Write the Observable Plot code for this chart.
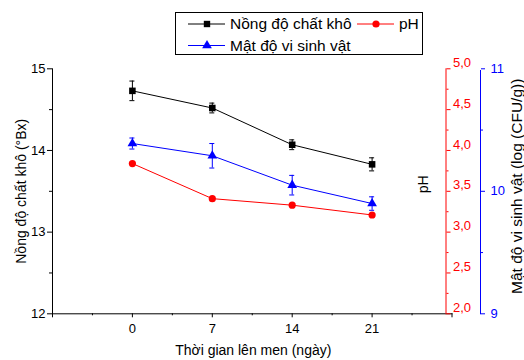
<!DOCTYPE html>
<html>
<head>
<meta charset="utf-8">
<script src="https://cdn.jsdelivr.net/npm/d3@7"></script>
<script src="https://cdn.jsdelivr.net/npm/@observablehq/plot@0.6"></script>
<style>
  html, body { margin: 0; padding: 0; background: #fff; }
  #wrap { position: relative; width: 524px; height: 360px; font-family: "Liberation Sans", Arial, sans-serif; }
  #wrap svg { display: block; }
  #legend { position: absolute; left: 0; top: 0; }
</style>
</head>
<body>
<div id="wrap"></div>
<script>
// ---- data ----
const days = [0, 7, 14, 21];
const solids = [14.73, 14.52, 14.07, 13.83];        // °Bx
const solidsErr = [0.12, 0.06, 0.06, 0.08];
const pH = [3.84, 3.41, 3.33, 3.21];
const microbes = [10.39, 10.29, 10.05, 9.90];      // log CFU/g
const microbesErr = [0.045, 0.10, 0.08, 0.055];

// ---- ticks / labels ----
const xTicks = [0, 7, 14, 21];
const xEndTicks = [-7, 28];
const xMinorTicks = [-3.5, 3.5, 10.5, 17.5, 24.5];
const leftTicks = [12, 13, 14, 15];
const leftMinor = [12.5, 13.5, 14.5];
const pHTicks = [2, 2.5, 3, 3.5, 4, 4.5, 5];
const pHMinor = [2.25, 2.75, 3.25, 3.75, 4.25, 4.75];
const logTicks = [9, 10, 11];
const logMinor = [9.5, 10.5];

const xTitle = "Thời gian lên men (ngày)";
const leftTitle = "Nồng độ chất khô (°Bx)";
const pHTitle = "pH";
const logTitle = "Mật độ vi sinh vật (log (CFU/g))";
const seriesNames = ["Nồng độ chất khô", "pH", "Mật độ vi sinh vật"];
const seriesColors = ["#000000", "#ff0000", "#0000ff"];

// map secondary axes onto the primary (12–15) scale
const fromPH = v => v + 10;                 // 2–5  -> 12–15
const fromLog = v => 12 + (v - 9) * 1.5;    // 9–11 -> 12–15

const rows = days.map((d, i) => ({
  day: d,
  solids: solids[i], solidsErr: solidsErr[i],
  ph: fromPH(pH[i]),
  mic: fromLog(microbes[i]), micLo: fromLog(microbes[i] - microbesErr[i]), micHi: fromLog(microbes[i] + microbesErr[i])
}));

const font = '"Liberation Sans", Arial, sans-serif';
const capW = 0.22;

const plot = Plot.plot({
  width: 524, height: 360,
  marginLeft: 52, marginRight: 72.5, marginTop: 68.3, marginBottom: 46.7,
  style: { fontFamily: font, fontSize: "13px", background: "white", color: "black", overflow: "visible" },
  x: { domain: [-7, 28] },
  y: { domain: [12, 15] },
  marks: [
    // axis lines
    Plot.frame({ anchor: "left", stroke: "#000" }),
    Plot.frame({ anchor: "bottom", stroke: "#000" }),
    Plot.frame({ anchor: "right", stroke: "#ff0000", insetRight: 6 }),
    Plot.frame({ anchor: "right", stroke: "#0000ff", insetRight: -28.5, insetTop: 1.7 }),

    // x axis
    Plot.axisX(xTicks, { anchor: "bottom", tickSize: 4, tickPadding: 6, label: null, fontSize: 13, tickFormat: d => String(d) }),
    Plot.axisX(xEndTicks, { anchor: "bottom", tickSize: 4, fill: "none", label: null }),
    Plot.axisX(xMinorTicks, { anchor: "bottom", tickSize: 2, fill: "none", label: null }),

    // left axis
    Plot.axisY(leftTicks, { anchor: "left", tickSize: 5, tickPadding: 2, label: null, fontSize: 13, tickFormat: d => String(d) }),
    Plot.axisY(leftMinor, { anchor: "left", tickSize: 3, fill: "none", label: null }),

    // pH axis (red)
    Plot.axisY(pHTicks.map(fromPH), { anchor: "right", dx: -6, tickSize: 4, stroke: "#ff0000", fill: "none", label: null }),
    Plot.axisY(pHMinor.map(fromPH), { anchor: "right", dx: -6, tickSize: 2, stroke: "#ff0000", fill: "none", label: null }),
    Plot.axisY(pHTicks.map(fromPH), { anchor: "right", dx: -6, dy: -6, tickSize: 0, tickPadding: 7, fill: "#ff0000",
      tickFormat: d => (d - 10).toFixed(1).replace(".", ","), label: null, fontSize: 13 }),

    // log axis (blue)
    Plot.axisY(logTicks.map(fromLog), { anchor: "right", dx: 28.5, tickSize: 4, tickPadding: 6, stroke: "#0000ff", fill: "#0000ff",
      tickFormat: d => String(Math.round(9 + (d - 12) / 1.5)), label: null, fontSize: 13 }),
    Plot.axisY(logMinor.map(fromLog), { anchor: "right", dx: 28.5, tickSize: 2, stroke: "#0000ff", fill: "none", label: null }),

    // axis titles
    Plot.text([leftTitle], { frameAnchor: "left", dx: -31, dy: 0, rotate: -90, textAnchor: "middle", lineAnchor: "middle", fontSize: 14 }),
    Plot.text([xTitle], { frameAnchor: "bottom", dx: 1, dy: 36.5, textAnchor: "middle", lineAnchor: "middle", fontSize: 14 }),
    Plot.text([pHTitle], { frameAnchor: "right", dx: -28.5, dy: -7, rotate: -90, textAnchor: "middle", lineAnchor: "middle", fontSize: 14 }),
    Plot.text([logTitle], { frameAnchor: "right", dx: 65.5, dy: -5, rotate: -90, textAnchor: "middle", lineAnchor: "middle", fontSize: 15.5 }),

    // series: solids (black)
    Plot.ruleX(rows, { x: "day", y1: d => d.solids - d.solidsErr, y2: d => d.solids + d.solidsErr, stroke: "#000" }),
    Plot.ruleY(rows, { y: d => d.solids - d.solidsErr, x1: d => d.day - capW, x2: d => d.day + capW, stroke: "#000" }),
    Plot.ruleY(rows, { y: d => d.solids + d.solidsErr, x1: d => d.day - capW, x2: d => d.day + capW, stroke: "#000" }),
    Plot.line(rows, { x: "day", y: "solids", stroke: "#000", strokeWidth: 1 }),
    Plot.dot(rows, { x: "day", y: "solids", symbol: "square", r: 3.7, fill: "#000", stroke: "none" }),

    // series: microbes (blue)
    Plot.ruleX(rows, { x: "day", y1: "micLo", y2: "micHi", stroke: "#0000ff" }),
    Plot.ruleY(rows, { y: "micLo", x1: d => d.day - capW, x2: d => d.day + capW, stroke: "#0000ff" }),
    Plot.ruleY(rows, { y: "micHi", x1: d => d.day - capW, x2: d => d.day + capW, stroke: "#0000ff" }),
    Plot.line(rows, { x: "day", y: "mic", stroke: "#0000ff", strokeWidth: 1 }),
    Plot.dot(rows, { x: "day", y: "mic", symbol: "triangle", r: 3.6, fill: "#0000ff", stroke: "none" }),

    // series: pH (red)
    Plot.line(rows, { x: "day", y: "ph", stroke: "#ff0000", strokeWidth: 1 }),
    Plot.dot(rows, { x: "day", y: "ph", symbol: "circle", r: 3.6, fill: "#ff0000", stroke: "none" })
  ]
});

const wrap = document.getElementById("wrap");
wrap.appendChild(plot);

// ---- legend (overlay) ----
const lg = d3.create("svg").attr("id", "legend").attr("width", 524).attr("height", 60)
  .style("font-family", font).style("position", "absolute").style("left", "0px").style("top", "0px");
lg.append("rect").attr("x", 175.5).attr("y", 12.5).attr("width", 247).attr("height", 42)
  .attr("fill", "white").attr("stroke", "#000").attr("stroke-width", 1);
const items = [
  { name: seriesNames[0], color: seriesColors[0], x: 188, y: 24, sym: d3.symbolSquare },
  { name: seriesNames[1], color: seriesColors[1], x: 357, y: 24, sym: d3.symbolCircle },
  { name: seriesNames[2], color: seriesColors[2], x: 188, y: 45.5, sym: d3.symbolTriangle }
];
for (const it of items) {
  lg.append("line").attr("x1", it.x).attr("x2", it.x + 37).attr("y1", it.y).attr("y2", it.y)
    .attr("stroke", it.color).attr("stroke-width", 1);
  lg.append("path").attr("d", d3.symbol(it.sym, 3.6 * 3.6 * Math.PI)())
    .attr("transform", `translate(${it.x + 19},${it.y})`).attr("fill", it.color);
  lg.append("text").attr("x", it.x + 42).attr("y", it.y).attr("dy", "0.35em")
    .attr("font-size", 15.5).attr("fill", "#000").text(it.name);
}
wrap.appendChild(lg.node());
</script>
</body>
</html>
